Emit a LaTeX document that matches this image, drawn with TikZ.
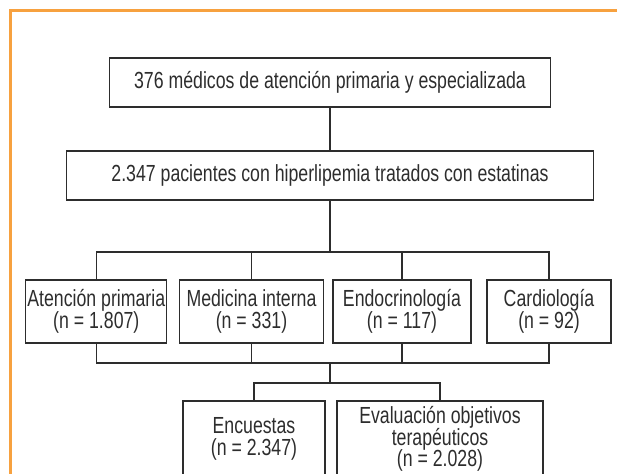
\documentclass[tikz,border=0pt]{standalone}
\usepackage{fontspec}
\setmainfont{Liberation Sans}[FakeStretch=0.76]
\usepackage{tikz}
\definecolor{framecolor}{RGB}{247,161,63}
\definecolor{inkgray}{RGB}{45,45,45}
\newcommand{\chartfont}{\fontsize{23.3}{21.5}\selectfont\lineskiplimit=-50pt\relax}

\begin{document}
\begin{tikzpicture}[
    x=1pt, y=-1pt,
    % Common look of every box
    every node/.style={
        align=center,
        inner sep=0pt,
        font=\chartfont,
        text=inkgray
    },
    % Boxes of the chart
    top box/.style={
        draw=inkgray,
        line width=1.3pt,
        minimum height=49pt
    },
    group box/.style={
        draw=inkgray,
        line width=1.3pt,
        minimum height=63pt
    },
    result box/.style={
        draw=inkgray,
        line width=1.3pt,
        minimum height=76pt
    },
    link/.style={draw=inkgray, line width=1.3pt}
]
    % Page and frame
    \clip (0,0) rectangle (617,473);
    \draw[framecolor, line width=2.6pt] (10.5,480) -- (10.5,10.5) -- (620,10.5);

    % Physicians and patients
    \node[top box, minimum width=441pt] (medicos) at (330,82.5)
        {376 médicos de atención primaria y especializada};
    \node[top box, minimum width=527pt] (pacientes) at (330,175.5)
        {2.347 pacientes con hiperlipemia tratados con estatinas};
    \draw[link] (medicos) -- (pacientes);

    % Specialties
    \node[group box, minimum width=141pt] (primaria) at (96.3,311.5)
        {Atención primaria\\(n = 1.807)};
    \node[group box, minimum width=144pt] (interna) at (251.5,311.5)
        {Medicina interna\\(n = 331)};
    \node[group box, minimum width=138pt] (endocrino) at (402,311.5)
        {Endocrinología\\(n = 117)};
    \node[group box, minimum width=124pt] (cardio) at (549,311.5)
        {Cardiología\\(n = 92)};

    % Branches above and below the specialties
    \coordinate (topbus) at (330,252);
    \coordinate (lowbus) at (330,363);
    \coordinate (split) at (330,383);
    \draw[link] (pacientes.south) -- (topbus);
    \foreach \spec in {primaria, interna, endocrino, cardio} {
        \draw[link] (\spec.north) |- (topbus);
        \draw[link] (\spec.south) |- (lowbus);
    }
    \draw[link] (lowbus) -- (split);

    % Results
    \node[result box, minimum width=142pt] (encuestas) at (254,439)
        {Encuestas\\(n = 2.347)};
    \node[result box, minimum width=206pt] (evaluacion) at (440,439)
        {Evaluación objetivos\\terapéuticos\\(n = 2.028)};
    \draw[link] (encuestas.north) |- (split);
    \draw[link] (evaluacion.north) |- (split);
\end{tikzpicture}
\end{document}
